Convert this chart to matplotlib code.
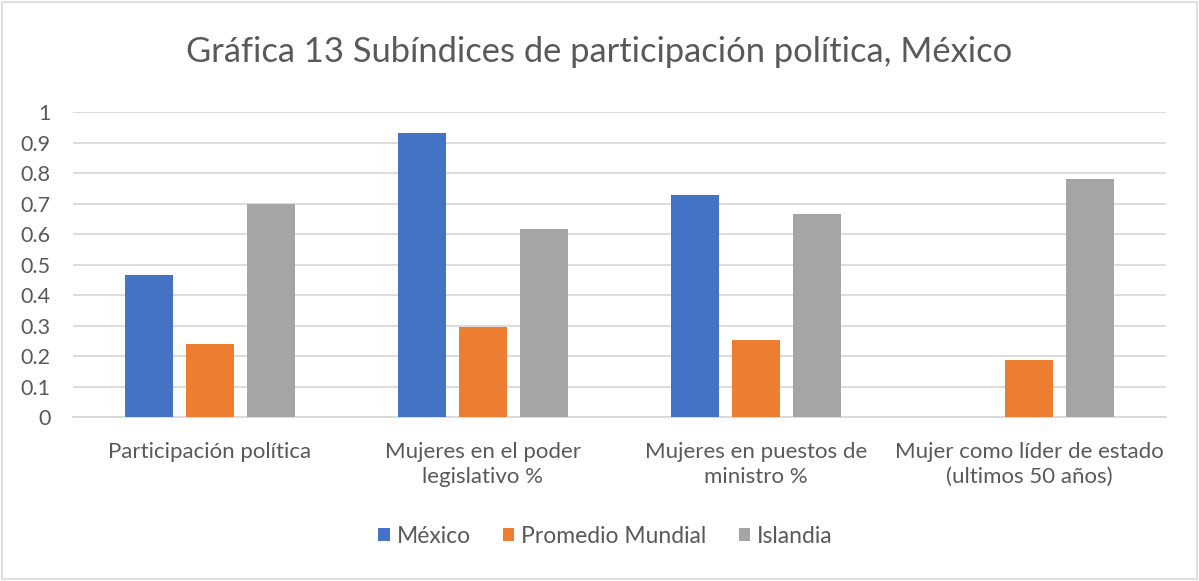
import numpy as np
from matplotlib import pyplot as plt
from matplotlib.patches import Rectangle

# Data
categories = ["Participación política",
              "Mujeres en el poder\nlegislativo %",
              "Mujeres en puestos de\nministro %",
              "Mujer como líder de estado\n(ultimos 50 años)"]
mexico = [0.467, 0.930, 0.727, 0.0]
promedio = [0.239, 0.297, 0.253, 0.188]
islandia = [0.699, 0.616, 0.666, 0.780]
series_names = ["México", "Promedio Mundial", "Islandia"]
colors = ["#4472C4", "#ED7D31", "#A5A5A5"]
yticks = np.arange(0, 1.01, 0.1)
ytick_labels = ["0", "0.1", "0.2", "0.3", "0.4", "0.5", "0.6", "0.7", "0.8", "0.9", "1"]

TEXT = "#595959"
plt.rcParams['font.family'] = ['Lato', 'DejaVu Sans']

fig = plt.figure(figsize=(11.99, 5.81), dpi=100)
ax = fig.add_axes([0.0609, 0.2818, 0.9116, 0.5254])

x = np.arange(len(categories))
width = 0.176
step = 0.223
for i, (vals, name, c) in enumerate(zip([mexico, promedio, islandia], series_names, colors)):
    ax.bar(x + (i - 1) * step, vals, width, color=c, label=name, zorder=3)

ax.set_xlim(-0.5, 3.5)
ax.set_ylim(0, 1)
ax.set_yticks(yticks)
ax.set_yticklabels(ytick_labels)
ax.set_xticks(x)
ax.set_xticklabels(categories, linespacing=1.3)
ax.tick_params(axis='both', length=0, colors=TEXT)
ax.tick_params(axis='x', pad=18, labelsize=16)
ax.tick_params(axis='y', pad=16, labelsize=15.5)
ax.grid(axis='y', color="#D9D9D9", linewidth=1.3, zorder=0)
for s in ["top", "right", "left"]:
    ax.spines[s].set_visible(False)
ax.spines["bottom"].set_color("#D9D9D9")
ax.spines["bottom"].set_linewidth(1.3)

fig.text(0.5, 0.91, "Gráfica 13 Subíndices de participación política, México",
         ha="center", va="center", fontsize=24.8, color=TEXT)

leg = fig.legend(loc="center", bbox_to_anchor=(0.505, 0.077), ncol=3, frameon=False,
                 fontsize=16.5, handlelength=0.5, handleheight=0.5, handletextpad=0.3,
                 columnspacing=1.4)
for t in leg.get_texts():
    t.set_color(TEXT)

# chart area border
fig.patches.append(Rectangle((0.002, 0.004), 0.996, 0.992, transform=fig.transFigure,
                             fill=False, edgecolor="#D9D9D9", linewidth=1.2))

fig.savefig("out.png", dpi=100)
